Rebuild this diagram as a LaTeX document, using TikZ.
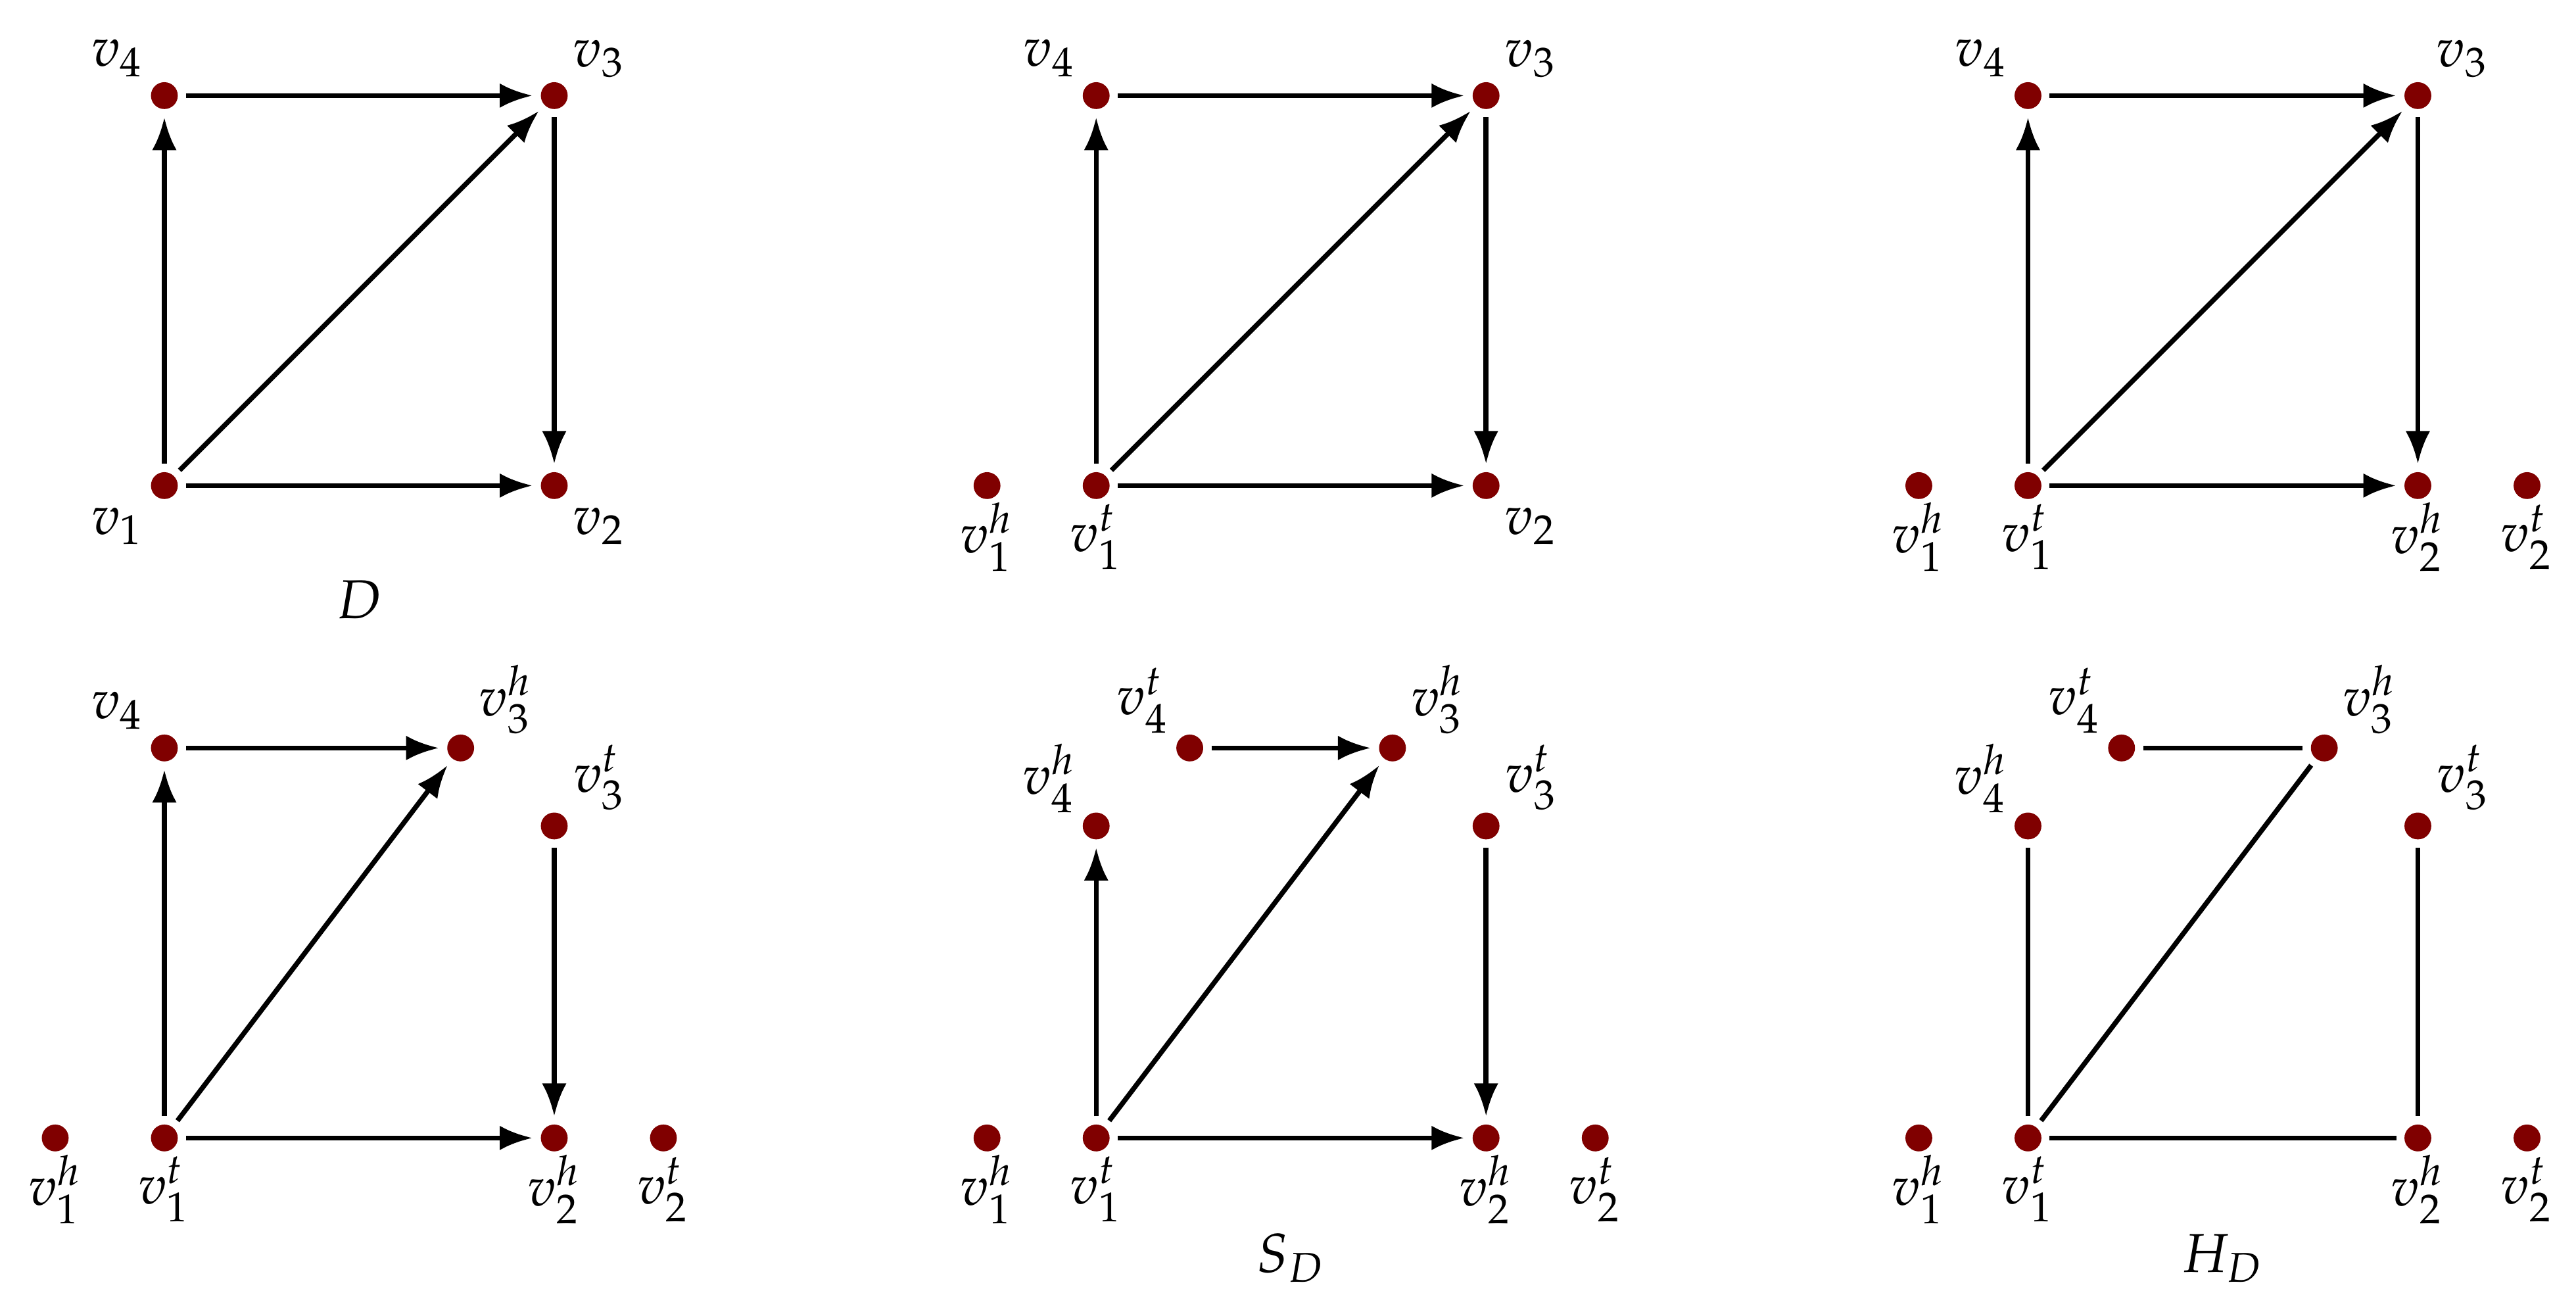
\documentclass[tikz,border=0pt]{standalone}
\usepackage{mathpazo}
\usetikzlibrary{arrows.meta}
\definecolor{dotred}{RGB}{128,0,0}
\begin{document}
\begin{tikzpicture}[
  every label/.style={inner sep=0pt,outer sep=0pt},
  vtx/.style={circle,fill=dotred,draw=none,minimum size=4.9pt,inner sep=0pt,outer sep=1.5pt},
  darc/.style={line width=0.9pt,-{Latex[length=6pt,width=4.5pt]}},
  uedge/.style={line width=0.9pt},
  al/.style={label={[xshift=-0.30cm,yshift=0.24cm]center:$#1$}},
  als/.style={label={[xshift=-0.30cm,yshift=0.305cm]center:$#1$}},
  ar/.style={label={[xshift=0.287cm,yshift=0.235cm]center:$#1$}},
  ars/.style={label={[xshift=0.29cm,yshift=0.31cm]center:$#1$}},
  bl/.style={label={[xshift=-0.30cm,yshift=-0.26cm]center:$#1$}},
  br/.style={label={[xshift=0.287cm,yshift=-0.26cm]center:$#1$}},
  bs/.style={label={[yshift=-0.33cm]center:$#1$}},
  captxt/.style={inner sep=0pt}
]
\useasboundingbox (-1.054,-5.310) rectangle (15.464,3.113);

% Panel A: D
\begin{scope}
  \node[vtx,bl={v_1}] (A1) at (0,0) {};
  \node[vtx,br={v_2}] (A2) at (2.5,0) {};
  \node[vtx,ar={v_3}] (A3) at (2.5,2.5) {};
  \node[vtx,al={v_4}] (A4) at (0,2.5) {};
  \draw[darc] (A1) -- (A4);
  \draw[darc] (A1) -- (A3);
  \draw[darc] (A1) -- (A2);
  \draw[darc] (A4) -- (A3);
  \draw[darc] (A3) -- (A2);
  \node[captxt] (AD) at (1.25,-0.73) {$D$};
\end{scope}

% Panel B
\begin{scope}[shift={(5.975,0)}]
  \node[vtx,bs={v_1^h}] (B1h) at (-0.7,0) {};
  \node[vtx,bs={v_1^t}] (B1t) at (0,0) {};
  \node[vtx,br={v_2}] (B2) at (2.5,0) {};
  \node[vtx,ar={v_3}] (B3) at (2.5,2.5) {};
  \node[vtx,al={v_4}] (B4) at (0,2.5) {};
  \draw[darc] (B1t) -- (B4);
  \draw[darc] (B1t) -- (B3);
  \draw[darc] (B1t) -- (B2);
  \draw[darc] (B4) -- (B3);
  \draw[darc] (B3) -- (B2);
\end{scope}

% Panel C
\begin{scope}[shift={(11.95,0)}]
  \node[vtx,bs={v_1^h}] (C1h) at (-0.7,0) {};
  \node[vtx,bs={v_1^t}] (C1t) at (0,0) {};
  \node[vtx,bs={v_2^h}] (C2h) at (2.5,0) {};
  \node[vtx,bs={v_2^t}] (C2t) at (3.2,0) {};
  \node[vtx,ar={v_3}] (C3) at (2.5,2.5) {};
  \node[vtx,al={v_4}] (C4) at (0,2.5) {};
  \draw[darc] (C1t) -- (C4);
  \draw[darc] (C1t) -- (C3);
  \draw[darc] (C1t) -- (C2h);
  \draw[darc] (C4) -- (C3);
  \draw[darc] (C3) -- (C2h);
\end{scope}

% Panel D (bottom left)
\begin{scope}[shift={(0,-4.182)}]
  \node[vtx,bs={v_1^h}] (D1h) at (-0.7,0) {};
  \node[vtx,bs={v_1^t}] (D1t) at (0,0) {};
  \node[vtx,bs={v_2^h}] (D2h) at (2.5,0) {};
  \node[vtx,bs={v_2^t}] (D2t) at (3.2,0) {};
  \node[vtx,ars={v_3^h}] (D3h) at (1.9,2.5) {};
  \node[vtx,ars={v_3^t}] (D3t) at (2.5,2.0) {};
  \node[vtx,al={v_4}] (D4) at (0,2.5) {};
  \draw[darc] (D1t) -- (D4);
  \draw[darc] (D1t) -- (D3h);
  \draw[darc] (D1t) -- (D2h);
  \draw[darc] (D4) -- (D3h);
  \draw[darc] (D3t) -- (D2h);
\end{scope}

% Panel E: S_D
\begin{scope}[shift={(5.975,-4.182)}]
  \node[vtx,bs={v_1^h}] (E1h) at (-0.7,0) {};
  \node[vtx,bs={v_1^t}] (E1t) at (0,0) {};
  \node[vtx,bs={v_2^h}] (E2h) at (2.5,0) {};
  \node[vtx,bs={v_2^t}] (E2t) at (3.2,0) {};
  \node[vtx,ars={v_3^h}] (E3h) at (1.9,2.5) {};
  \node[vtx,ars={v_3^t}] (E3t) at (2.5,2.0) {};
  \node[vtx,als={v_4^t}] (E4t) at (0.6,2.5) {};
  \node[vtx,als={v_4^h}] (E4h) at (0,2.0) {};
  \draw[darc] (E1t) -- (E4h);
  \draw[darc] (E1t) -- (E3h);
  \draw[darc] (E1t) -- (E2h);
  \draw[darc] (E4t) -- (E3h);
  \draw[darc] (E3t) -- (E2h);
  \node[captxt] (ES) at (1.25,-0.77) {$S_D$};
\end{scope}

% Panel F: H_D
\begin{scope}[shift={(11.95,-4.182)}]
  \node[vtx,bs={v_1^h}] (F1h) at (-0.7,0) {};
  \node[vtx,bs={v_1^t}] (F1t) at (0,0) {};
  \node[vtx,bs={v_2^h}] (F2h) at (2.5,0) {};
  \node[vtx,bs={v_2^t}] (F2t) at (3.2,0) {};
  \node[vtx,ars={v_3^h}] (F3h) at (1.9,2.5) {};
  \node[vtx,ars={v_3^t}] (F3t) at (2.5,2.0) {};
  \node[vtx,als={v_4^t}] (F4t) at (0.6,2.5) {};
  \node[vtx,als={v_4^h}] (F4h) at (0,2.0) {};
  \draw[uedge] (F1t) -- (F4h);
  \draw[uedge] (F1t) -- (F3h);
  \draw[uedge] (F1t) -- (F2h);
  \draw[uedge] (F4t) -- (F3h);
  \draw[uedge] (F3t) -- (F2h);
  \node[captxt] (FH) at (1.25,-0.77) {$H_D$};
\end{scope}
\end{tikzpicture}
\end{document}
